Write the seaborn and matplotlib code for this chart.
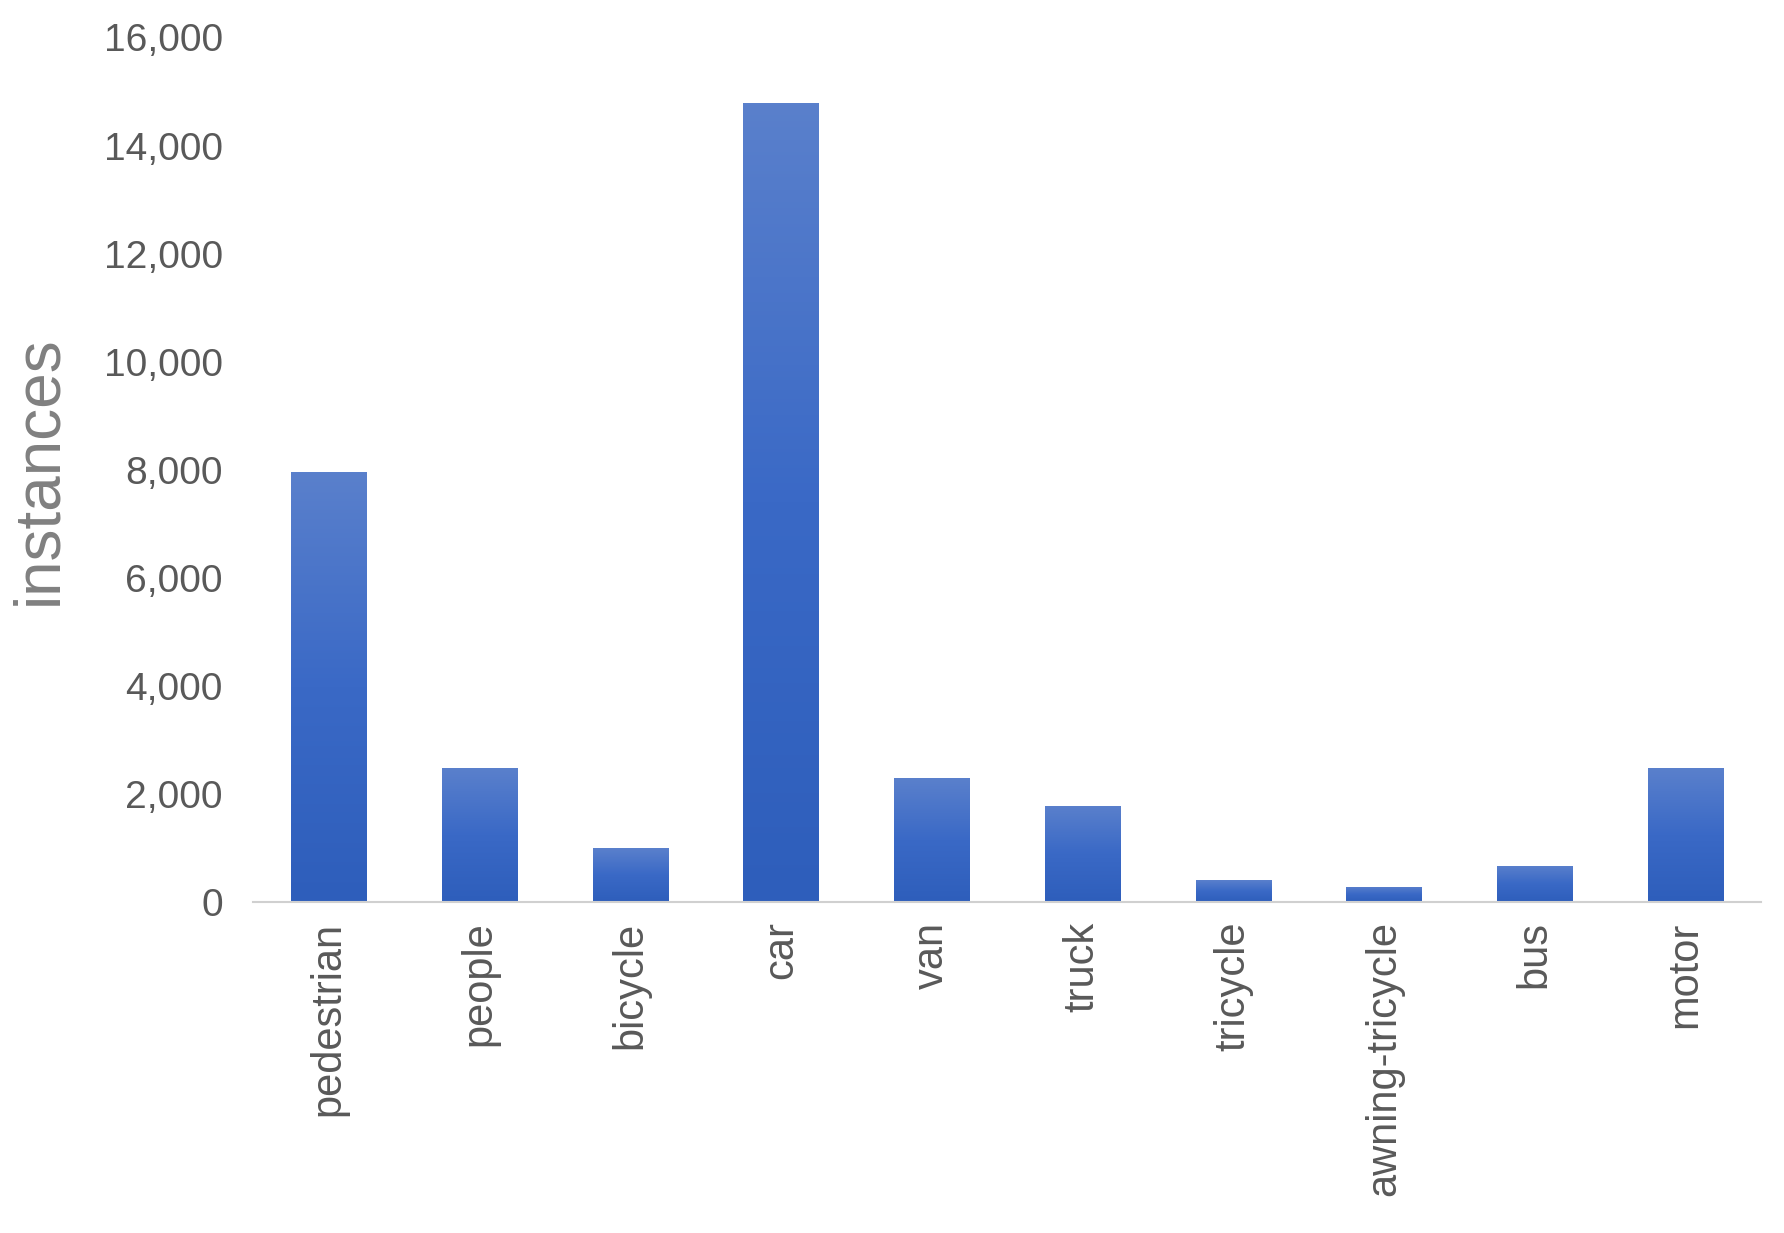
import numpy as np
import pandas as pd
import matplotlib
matplotlib.use("Agg")
import matplotlib.pyplot as plt
import seaborn as sns
from matplotlib.colors import LinearSegmentedColormap
from matplotlib.ticker import FuncFormatter

categories = ["pedestrian", "people", "bicycle", "car", "van", "truck",
              "tricycle", "awning-tricycle", "bus", "motor"]
instances = [7950, 2480, 995, 14790, 2290, 1780, 400, 280, 670, 2480]
y_ticks = [0, 2000, 4000, 6000, 8000, 10000, 12000, 14000, 16000]

df = pd.DataFrame({"category": categories, "instances": instances})

sns.set_theme(style="white")
plt.rcParams['font.family'] = ['Liberation Sans', 'DejaVu Sans']

fig = plt.figure(figsize=(17.84, 12.33), dpi=100)
ax = fig.add_axes([0.142, 0.2685, 0.845, 0.7011])

sns.barplot(data=df, x="category", y="instances", color="#4472C4",
            width=0.5, ax=ax, saturation=1)

cmap = LinearSegmentedColormap.from_list("g", ["#2E5EBB", "#3A69C6", "#5A80CC"])
grad = np.linspace(0, 1, 256).reshape(-1, 1)
for p in ax.patches:
    x0, y0 = p.get_x(), p.get_y()
    w, h = p.get_width(), p.get_height()
    im = ax.imshow(grad, extent=[x0, x0 + w, y0, y0 + h], origin="lower",
                   cmap=cmap, aspect="auto", zorder=p.get_zorder() + 0.1)
    im.set_clip_path(p)

ax.set_xlim(-0.5, len(categories) - 0.5)
ax.set_ylim(0, 16000)
ax.set_yticks(y_ticks)
ax.yaxis.set_major_formatter(FuncFormatter(lambda v, _: f"{int(v):,}"))

for s in ["top", "right", "left"]:
    ax.spines[s].set_visible(False)
ax.spines["bottom"].set_color("#D0D0D0")
ax.spines["bottom"].set_linewidth(1.5)

ax.tick_params(axis="y", length=0, pad=22, labelsize=28, labelcolor="#595959")
ax.tick_params(axis="x", length=0, pad=14, labelsize=30, labelcolor="#595959",
               labelrotation=90)
ax.set_xlabel("")
ax.set_ylabel("instances", fontsize=46, color="#808080")
ax.yaxis.set_label_coords(-0.122, 0.5)

fig.savefig("out.png", dpi=100)
